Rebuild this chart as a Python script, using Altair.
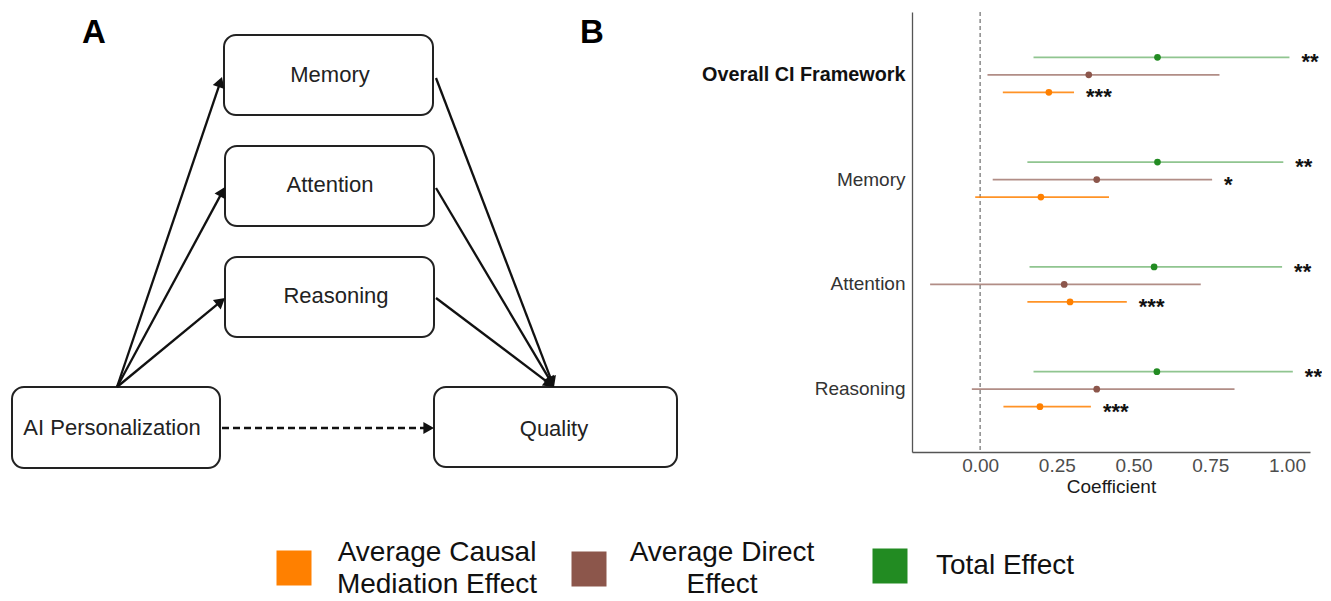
import math
import altair as alt
import pandas as pd

# ---------------- Panel B data (forest plot) ----------------
categories = ["Overall CI Framework", "Memory", "Attention", "Reasoning"]
effect_order = ["Total Effect", "Average Direct Effect", "Average Causal Mediation Effect"]

acme_est = [0.224, 0.198, 0.293, 0.195]
acme_lo = [0.074, -0.016, 0.154, 0.076]
acme_hi = [0.306, 0.420, 0.478, 0.361]

ade_est = [0.354, 0.380, 0.274, 0.380]
ade_lo = [0.024, 0.041, -0.163, -0.027]
ade_hi = [0.780, 0.756, 0.719, 0.829]

total_est = [0.578, 0.578, 0.567, 0.576]
total_lo = [0.174, 0.154, 0.161, 0.174]
total_hi = [1.008, 0.988, 0.984, 1.019]

stars_acme = ["***", "", "***", "***"]
stars_ade = ["", "*", "", ""]
stars_total = ["**", "**", "**", "**"]

x_ticks = [0.0, 0.25, 0.50, 0.75, 1.00]

# ---------------- Legend ----------------
legend_keys = ["Average Causal Mediation Effect", "Average Direct Effect", "Total Effect"]
legend_labels = ["Average Causal\nMediation Effect", "Average Direct\nEffect", "Total Effect"]
color_range = ["#ff8000", "#8c564b", "#228b22"]
line_opacity = [0.85, 0.5, 0.7]

# ---------------- Panel A diagram (layout units) ----------------
node_names = ["Memory", "Attention", "Reasoning", "AI Personalization", "Quality"]
node_x0 = [224, 225, 225, 12, 434]
node_x1 = [433, 434, 434, 220, 677]
node_y0 = [35, 146, 257, 387, 387]
node_y1 = [115, 226, 337, 468, 467]
label_x = [330, 330, 336, 112, 554]
label_y = [75, 185, 296, 428, 429]

edge_x0 = [117, 117, 117, 436, 436, 436]
edge_y0 = [387, 387, 387, 78, 188, 298]
edge_x1 = [222, 225, 225, 554, 554, 554]
edge_y1 = [77, 187, 298, 387, 387, 387]

dash_x0, dash_y0, dash_x1, dash_y1 = [222], [428], [434], [428]

panel_letters = ["A", "B"]
letter_x = [94, 592]
letter_y = [43, 43]

legend_sq_x = [294, 589, 890]
legend_sq_y = [568, 569, 566]
legend_tx = [437, 722, 1005]
legend_ty = [561, 561, 574]

# ---------------- build tables ----------------
rows = []
for i, c in enumerate(categories):
    rows.append(dict(category=c, effect="Total Effect", est=total_est[i], lo=total_lo[i], hi=total_hi[i], star=stars_total[i]))
    rows.append(dict(category=c, effect="Average Direct Effect", est=ade_est[i], lo=ade_lo[i], hi=ade_hi[i], star=stars_ade[i]))
    rows.append(dict(category=c, effect="Average Causal Mediation Effect", est=acme_est[i], lo=acme_lo[i], hi=acme_hi[i], star=stars_acme[i]))
df = pd.DataFrame(rows)

color_scale = alt.Scale(domain=legend_keys, range=color_range)

is_overall = "datum.value == 'Overall CI Framework'"
x_scale = alt.Scale(domain=[-0.222, 1.075], nice=False, zero=False)
x_axis = alt.Axis(values=x_ticks, format=".2f", title="Coefficient", ticks=False, tickSize=0,
                  labelFontSize=19, labelColor="#4d4d4d", labelPadding=4,
                  titleFontSize=19, titleFontWeight="normal", titleColor="#1a1a1a", titlePadding=2,
                  domainColor="#555555", domainWidth=1.3, grid=False)
y_enc = alt.Y("category:N", sort=categories,
              scale=alt.Scale(paddingInner=0, paddingOuter=0.1),
              axis=alt.Axis(title=None, ticks=False, labelPadding=7, labelLimit=400,
                            labelFontSize={"condition": {"test": is_overall, "value": 19.8}, "value": 19},
                            labelColor={"condition": {"test": is_overall, "value": "#111111"}, "value": "#333333"},
                            labelFontWeight={"condition": {"test": is_overall, "value": "bold"}, "value": "normal"},
                            domainColor="#555555", domainWidth=1.3, grid=False))
# two empty slots around the three effects keep the dodge tight inside each category band
yoff = alt.YOffset("effect:N",
                   scale=alt.Scale(domain=[" "] + effect_order + ["  "], paddingInner=0, paddingOuter=0.493))

base = alt.Chart(df)
zero = alt.Chart(pd.DataFrame({"x": [0.0]})).mark_rule(color="#777777", strokeDash=[4, 3], strokeWidth=1.3).encode(
    x=alt.X("x:Q", scale=x_scale, axis=x_axis))
ci = base.mark_rule(strokeWidth=1.6).encode(
    x=alt.X("lo:Q", scale=x_scale, axis=x_axis), x2="hi:Q", y=y_enc, yOffset=yoff,
    color=alt.Color("effect:N", scale=color_scale, legend=None),
    opacity=alt.Opacity("effect:N", scale=alt.Scale(domain=legend_keys, range=line_opacity), legend=None))
pts = base.mark_circle(size=45, opacity=1).encode(
    x=alt.X("est:Q", scale=x_scale, axis=x_axis), y=y_enc, yOffset=yoff,
    color=alt.Color("effect:N", scale=color_scale, legend=None))
stars = base.transform_filter("datum.star != ''").mark_text(
    align="left", baseline="alphabetic", dx=12, dy=12, fontSize=22, fontWeight="bold", color="#111111").encode(
    x=alt.X("hi:Q", scale=x_scale, axis=x_axis), y=y_enc, yOffset=yoff, text="star:N")

panel_b = alt.layer(zero, ci, pts, stars).properties(width=398, height=440)

# ---------------- Panel A ----------------
A_W, A_H = 700, 586
ax = alt.Scale(domain=[8, 8 + A_W], nice=False, zero=False)
ay = alt.Scale(domain=[12, 12 + A_H], nice=False, zero=False, reverse=True)

nodes = pd.DataFrame(dict(name=node_names, x0=node_x0, x1=node_x1, y0=node_y0, y1=node_y1, lx=label_x, ly=label_y))

head_size = 150
head_h = math.sqrt(head_size) / 2 * math.sqrt(3) / 2
ex, ey, ex2, ey2, hx, hy, ha = [], [], [], [], [], [], []
for x0, y0, x1, y1 in zip(edge_x0 + dash_x0, edge_y0 + dash_y0, edge_x1 + dash_x1, edge_y1 + dash_y1):
    dx, dy = x1 - x0, y1 - y0
    L = math.hypot(dx, dy)
    ux, uy = dx / L, dy / L
    cx, cy = x1 - head_h * ux, y1 - head_h * uy
    ex.append(x0); ey.append(y0); ex2.append(cx); ey2.append(cy)
    hx.append(cx); hy.append(cy)
    ha.append(math.degrees(math.atan2(dx, -dy)) % 360)
n_solid = len(edge_x0)
edges = pd.DataFrame(dict(x=ex[:n_solid], y=ey[:n_solid], x2=ex2[:n_solid], y2=ey2[:n_solid]))
dashes = pd.DataFrame(dict(x=ex[n_solid:], y=ey[n_solid:], x2=ex2[n_solid:], y2=ey2[n_solid:]))
heads = pd.DataFrame(dict(x=hx, y=hy, angle=ha))

boxes = alt.Chart(nodes).mark_rect(fill="white", stroke="#222222", strokeWidth=2, cornerRadius=12).encode(
    x=alt.X("x0:Q", scale=ax, axis=None), x2="x1:Q",
    y=alt.Y("y0:Q", scale=ay, axis=None), y2="y1:Q")
box_text = alt.Chart(nodes).mark_text(fontSize=22, color="#222222", baseline="middle", align="center").encode(
    x=alt.X("lx:Q", scale=ax, axis=None), y=alt.Y("ly:Q", scale=ay, axis=None), text="name:N")
arrows = alt.Chart(edges).mark_rule(color="#111111", strokeWidth=2.3).encode(
    x=alt.X("x:Q", scale=ax, axis=None), y=alt.Y("y:Q", scale=ay, axis=None), x2="x2:Q", y2="y2:Q")
dash_arrow = alt.Chart(dashes).mark_rule(color="#111111", strokeWidth=2.3, strokeDash=[7, 4]).encode(
    x=alt.X("x:Q", scale=ax, axis=None), y=alt.Y("y:Q", scale=ay, axis=None), x2="x2:Q", y2="y2:Q")
arrow_heads = alt.Chart(heads).mark_point(shape="triangle-up", filled=True, size=head_size, color="#111111", opacity=1).encode(
    x=alt.X("x:Q", scale=ax, axis=None), y=alt.Y("y:Q", scale=ay, axis=None),
    angle=alt.Angle("angle:Q", scale=None))
letters = alt.Chart(pd.DataFrame(dict(t=panel_letters, x=letter_x, y=letter_y))).mark_text(
    fontSize=33, fontWeight="bold", color="#000000", align="center", baseline="alphabetic").encode(
    x=alt.X("x:Q", scale=ax, axis=None), y=alt.Y("y:Q", scale=ay, axis=None), text="t:N")

leg_df = pd.DataFrame(dict(key=legend_keys, label=legend_labels, sx=legend_sq_x, sy=legend_sq_y, tx=legend_tx, ty=legend_ty))
leg_sq = alt.Chart(leg_df).mark_square(size=1225, opacity=1).encode(
    x=alt.X("sx:Q", scale=ax, axis=None), y=alt.Y("sy:Q", scale=ay, axis=None),
    color=alt.Color("key:N", scale=color_scale, legend=None))
leg_tx = alt.Chart(leg_df).mark_text(fontSize=28, color="#111111", align="center", baseline="alphabetic",
                                      lineBreak="\n", lineHeight=32).encode(
    x=alt.X("tx:Q", scale=ax, axis=None), y=alt.Y("ty:Q", scale=ay, axis=None), text="label:N")

panel_a = alt.layer(boxes, arrows, dash_arrow, arrow_heads, box_text, letters, leg_sq, leg_tx).properties(
    width=A_W, height=A_H)

chart = alt.hconcat(panel_a, panel_b, spacing=204, bounds="flush").properties(
    padding={"left": 0, "top": 3, "right": 0, "bottom": 0}
).configure(font="Liberation Sans").configure_view(strokeWidth=0, stroke="transparent")

chart.save("out.html", embed_options={"renderer": "svg", "actions": False})
